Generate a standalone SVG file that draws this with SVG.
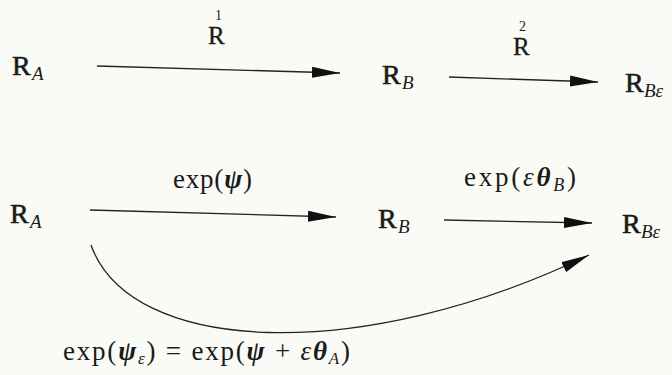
<svg xmlns="http://www.w3.org/2000/svg" width="672" height="375" viewBox="0 0 672 375">
<style>
.n{font-family:"Liberation Serif","DejaVu Serif",serif;font-size:28px;font-weight:normal;fill:#1a1a1a;stroke:#1a1a1a;stroke-width:0.6}
.s{font-family:"Liberation Serif","DejaVu Serif",serif;font-size:19px;font-style:italic;font-weight:normal;fill:#1a1a1a}
.l{font-family:"Liberation Serif","DejaVu Serif",serif;font-size:27px;fill:#1a1a1a}
.r{font-family:"Liberation Serif","DejaVu Serif",serif;font-size:25px;fill:#1a1a1a;stroke:#1a1a1a;stroke-width:0.3}
.sup{font-family:"Liberation Serif","DejaVu Serif",serif;font-size:14px;fill:#1a1a1a}
.bi{font-weight:bold;font-style:italic}
.it{font-style:italic}
.c{fill:none;stroke:#222;stroke-width:1.3}
</style>
<defs>
<marker id="ah" markerUnits="userSpaceOnUse" markerWidth="30" markerHeight="12" viewBox="0 -6 30 12" refX="28" refY="0" orient="auto">
<path d="M0,-5.5 L28,0 L0,5.5 Z" fill="#111"/>
</marker>
</defs>
<rect width="672" height="375" fill="#fafbf6"/>
<g id="connectors">
<path class="c" d="M97,66 L340,73" marker-end="url(#ah)"/>
<path class="c" d="M449,77 L598,82" marker-end="url(#ah)"/>
<path class="c" d="M90,210 L336,217" marker-end="url(#ah)"/>
<path class="c" d="M444,220 L592,223" marker-end="url(#ah)"/>
<path class="c" d="M91,245 C130,355 360,365 589,255" marker-end="url(#ah)"/>
</g>
<g id="top-RA"><text class="n" x="12" y="75">R</text><text class="s" x="32" y="80">A</text></g>
<g id="top-RB"><text class="n" x="382" y="84">R</text><text class="s" x="402" y="89">B</text></g>
<g id="top-RBe"><text class="n" x="625" y="92">R</text><text class="s" x="644" y="97">Bε</text></g>
<g id="label-R1"><text class="r" x="208" y="44">R</text><text class="sup" x="215" y="20">1</text></g>
<g id="label-R2"><text class="r" x="513" y="55">R</text><text class="sup" x="519" y="31">2</text></g>
<g id="bot-RA"><text class="n" x="10" y="223">R</text><text class="s" x="30" y="228">A</text></g>
<g id="bot-RB"><text class="n" x="378" y="228">R</text><text class="s" x="398" y="233">B</text></g>
<g id="bot-RBe"><text class="n" x="622" y="233">R</text><text class="s" x="641" y="238">Bε</text></g>
<g id="label-exp-psi"><text class="l" x="173" y="188" textLength="79" lengthAdjust="spacing">exp(<tspan class="bi">ψ</tspan>)</text></g>
<g id="label-exp-eps-theta"><text class="l" x="464" y="186" textLength="112" lengthAdjust="spacing">exp(<tspan class="it">ε</tspan><tspan class="bi">θ</tspan><tspan class="it" font-size="18" dy="5">B</tspan><tspan dy="-5">)</tspan></text></g>
<g id="label-bottom"><text class="l" x="63" y="360" textLength="287" lengthAdjust="spacing">exp(<tspan class="bi">ψ</tspan><tspan class="it" font-size="17" dy="4">ε</tspan><tspan dy="-4">) = exp(</tspan><tspan class="bi">ψ</tspan> + <tspan class="it">ε</tspan><tspan class="bi">θ</tspan><tspan class="it" font-size="17" dy="4">A</tspan><tspan dy="-4">)</tspan></text></g>
</svg>
